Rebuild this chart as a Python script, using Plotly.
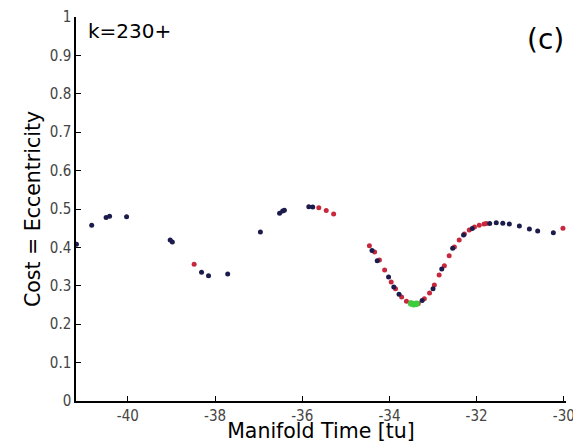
import plotly.graph_objects as go

# Dark (navy/black) samples
dark_x = [-41.18, -40.83, -40.50, -40.42, -40.03, -39.03, -38.98, -38.31, -38.15, -37.71,
          -36.96, -36.52, -36.45, -36.41, -35.85, -35.76,
          -34.40, -34.28, -34.02, -33.90, -33.78, -33.25, -33.00, -32.80, -32.55, -32.30,
          -32.10, -31.70, -31.55, -31.40, -31.25, -31.02, -30.79, -30.60, -30.24]
dark_y = [0.408, 0.458, 0.478, 0.481, 0.480, 0.419, 0.414, 0.335, 0.326, 0.331,
          0.440, 0.489, 0.495, 0.497, 0.506, 0.505,
          0.392, 0.365, 0.323, 0.297, 0.278, 0.262, 0.292, 0.344, 0.398, 0.432,
          0.449, 0.462, 0.464, 0.463, 0.461, 0.456, 0.448, 0.443, 0.438]

# Red samples
red_x = [-38.48, -35.62, -35.45, -35.28,
         -34.46, -34.34, -34.23, -34.11, -33.96, -33.86, -33.72, -33.61, -33.52,
         -33.34, -33.20, -33.08, -32.97, -32.86, -32.74, -32.63, -32.51, -32.40,
         -32.28, -32.17, -32.05, -31.94, -31.83, -31.78, -30.02]
red_y = [0.356, 0.503, 0.496, 0.487,
         0.404, 0.388, 0.367, 0.341, 0.310, 0.292, 0.271, 0.260, 0.255,
         0.254, 0.266, 0.281, 0.302, 0.328, 0.352, 0.378, 0.401, 0.419,
         0.435, 0.445, 0.453, 0.458, 0.461, 0.462, 0.450]

# Best (minimum) samples
green_x = [-33.50, -33.44, -33.38]
green_y = [0.254, 0.252, 0.253]

x_ticks = [-40, -38, -36, -34, -32, -30]
x_ticklabels = ["-40", "-38", "-36", "-34", "-32", "-30"]
y_ticks = [0, 0.1, 0.2, 0.3, 0.4, 0.5, 0.6, 0.7, 0.8, 0.9, 1]
y_ticklabels = ["0", "0.1", "0.2", "0.3", "0.4", "0.5", "0.6", "0.7", "0.8", "0.9", "1"]

fig = go.Figure()
fig.add_trace(go.Scatter(x=red_x, y=red_y, mode="markers",
                         marker=dict(color="#c8283c", size=5, symbol="circle"),
                         showlegend=False))
fig.add_trace(go.Scatter(x=dark_x, y=dark_y, mode="markers",
                         marker=dict(color="#1c1c4c", size=5, symbol="circle"),
                         showlegend=False))
fig.add_trace(go.Scatter(x=green_x, y=green_y, mode="markers",
                         marker=dict(color="#3ccc3c", size=6.5, symbol="circle"),
                         showlegend=False))

tickfont = dict(family="DejaVu Sans Condensed", size=15, color="#444444")
fig.update_layout(
    width=573, height=443,
    margin=dict(l=76, r=7, t=17, b=42, autoexpand=False),
    paper_bgcolor="white", plot_bgcolor="white",
    font=dict(family="DejaVu Sans", color="black"),
    xaxis=dict(range=[-41.19, -29.95], tickvals=x_ticks, ticktext=x_ticklabels,
               showgrid=False, zeroline=False, showline=True, linecolor="black",
               linewidth=1.5, ticks="inside", ticklen=5, tickcolor="black",
               tickfont=tickfont, automargin=False, ticklabeloverflow="allow",
               title=dict(text="Manifold Time [tu]", standoff=0,
                          font=dict(family="DejaVu Sans", size=20.5, color="black"))),
    yaxis=dict(range=[0, 1], tickvals=y_ticks, ticktext=y_ticklabels,
               showgrid=False, zeroline=False, showline=True, linecolor="black",
               linewidth=1.5, ticks="inside", ticklen=5, tickcolor="black",
               tickfont=tickfont, automargin=False, ticklabeloverflow="allow",
               title=dict(text="Cost = Eccentricity", standoff=4,
                          font=dict(family="DejaVu Sans", size=20.5, color="black"))),
    annotations=[
        dict(text="k=230+", xref="paper", yref="paper", x=0.02, y=1.0,
             xanchor="left", yanchor="top", showarrow=False,
             font=dict(family="DejaVu Sans", size=20, color="black")),
        dict(text="(c)", xref="paper", yref="paper", x=1.0, y=0.99,
             xanchor="right", yanchor="top", showarrow=False,
             font=dict(family="DejaVu Sans", size=28, color="black")),
    ],
)

fig.write_html("out.html", config={"displayModeBar": False},
               post_script="document.body.style.margin='0';")
